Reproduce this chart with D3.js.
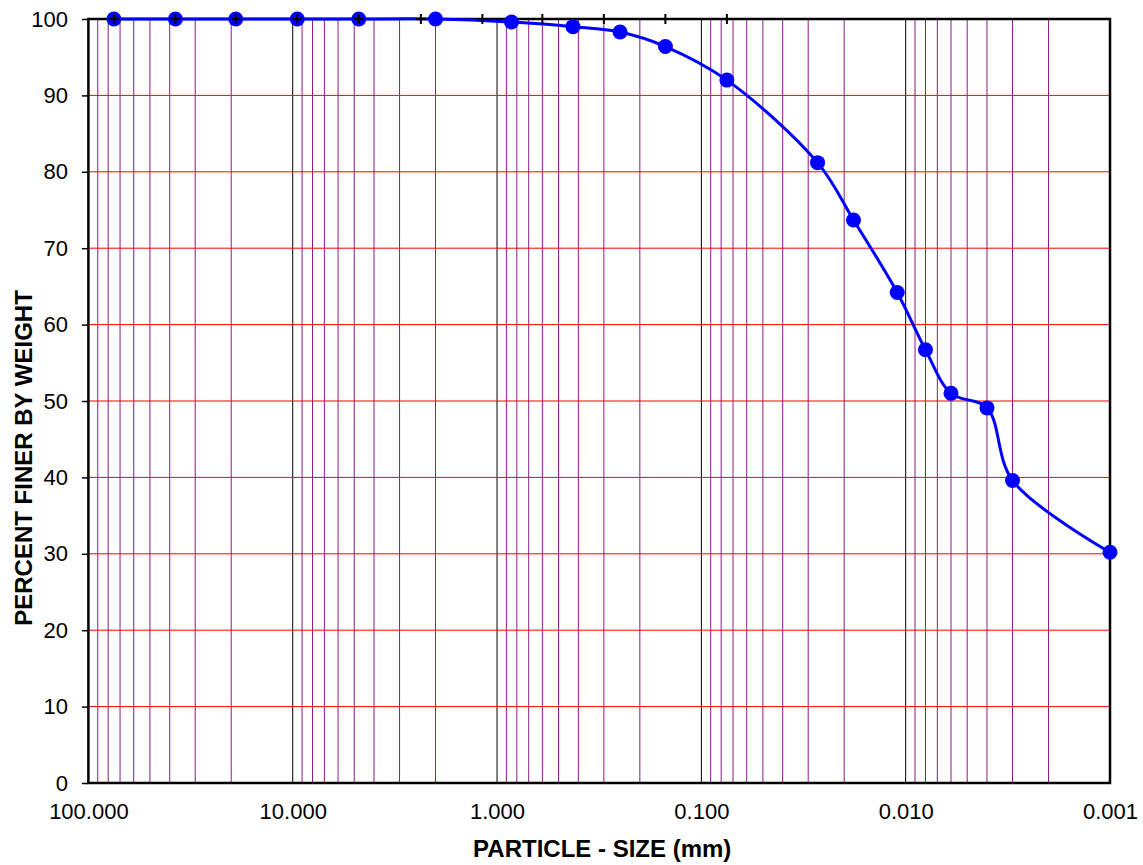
<!DOCTYPE html>
<html>
<head>
<meta charset="utf-8">
<script src="https://cdn.jsdelivr.net/npm/d3@7"></script>
<style>
  html, body { margin: 0; padding: 0; background: #fff; }
  svg { display: block; font-family: "Liberation Sans", Arial, Helvetica, sans-serif; }
</style>
</head>
<body>
<svg id="chart" width="1143" height="865"></svg>
<script>
// Grain-size distribution: sieve + hydrometer results
const particleSize = [75, 37.5, 19, 9.5, 4.75, 2.0, 0.85, 0.425, 0.25, 0.15, 0.075,
                      0.027, 0.018, 0.011, 0.008, 0.006, 0.004, 0.003, 0.001];
const percentFiner = [100, 100, 100, 100, 100, 100, 99.6, 99.0, 98.3, 96.4, 92.0,
                      81.2, 73.7, 64.2, 56.7, 51.0, 49.1, 39.6, 30.2];

// Standard sieve openings marked along the top (mm)
const sieveMarks = [75, 37.5, 19, 9.5, 4.75, 2.36, 1.18, 0.6, 0.3, 0.15, 0.075];
const sieveLevel = 100;

// Axis ticks
const decadeTicks = [100, 10, 1, 0.1, 0.01, 0.001];
const yTicks = [0, 10, 20, 30, 40, 50, 60, 70, 80, 90, 100];

const xTitle = "PARTICLE - SIZE (mm)";
const yTitle = "PERCENT FINER BY WEIGHT";

const svg = d3.select("#chart");
const plot = { left: 88.4, right: 1110, top: 19, bottom: 783 };

const x = d3.scaleLog().domain([100, 0.001]).range([plot.left, plot.right]);
const y = d3.scaleLinear().domain([0, 100]).range([plot.bottom, plot.top]);

// Minor log gridlines: 2..9 times each decade base
const minor = [];
decadeTicks.slice(1).forEach(base => {
  for (let m = 2; m <= 9; m++) minor.push(m * base);
});

const grid = svg.append("g");
grid.selectAll("line.minor").data(minor).join("line")
  .attr("class", "minor")
  .attr("x1", d => x(d)).attr("x2", d => x(d))
  .attr("y1", plot.top).attr("y2", plot.bottom)
  .attr("stroke", "#8a1a8a").attr("stroke-width", 1);

// Decade gridlines
grid.selectAll("line.major").data(decadeTicks.slice(1, -1)).join("line")
  .attr("class", "major")
  .attr("x1", d => x(d)).attr("x2", d => x(d))
  .attr("y1", plot.top).attr("y2", plot.bottom)
  .attr("stroke", "#000").attr("stroke-width", 1);

// Horizontal gridlines
grid.selectAll("line.h").data(yTicks.slice(1, -1)).join("line")
  .attr("class", "h")
  .attr("x1", plot.left).attr("x2", plot.right)
  .attr("y1", d => y(d)).attr("y2", d => y(d))
  .attr("stroke", "#ff0000").attr("stroke-width", 1);

// Plot frame
svg.append("rect")
  .attr("x", plot.left).attr("y", plot.top)
  .attr("width", plot.right - plot.left).attr("height", plot.bottom - plot.top)
  .attr("fill", "none").attr("stroke", "#000").attr("stroke-width", 2.5);

// Y axis
const yAxis = d3.axisLeft(y).tickValues(yTicks).tickSize(6).tickPadding(14)
  .tickFormat(d3.format("d"));
const yg = svg.append("g").attr("transform", `translate(${plot.left - 0.5},0)`).call(yAxis);
yg.select(".domain").remove();
yg.selectAll(".tick line").attr("stroke", "#000").attr("stroke-width", 1.5);
yg.selectAll(".tick text").attr("font-size", 22).attr("fill", "#000")
  .attr("font-family", "'Liberation Sans', Arial, sans-serif");

// X axis (labels only)
const xAxis = d3.axisBottom(x).tickValues(decadeTicks).tickSize(0).tickPadding(20)
  .tickFormat(d3.format(".3f"));
const xg = svg.append("g").attr("transform", `translate(0,${plot.bottom})`).call(xAxis);
xg.select(".domain").remove();
xg.selectAll(".tick text").attr("font-size", 22).attr("fill", "#000")
  .attr("font-family", "'Liberation Sans', Arial, sans-serif");

// Gradation curve
const pts = particleSize.map((d, i) => [x(d), y(percentFiner[i])]);
svg.append("path")
  .attr("d", d3.line().curve(d3.curveCatmullRom.alpha(0.5))(pts))
  .attr("fill", "none").attr("stroke", "#0000ff").attr("stroke-width", 3);

svg.append("g").selectAll("circle").data(pts).join("circle")
  .attr("cx", d => d[0]).attr("cy", d => d[1]).attr("r", 7.5)
  .attr("fill", "#0000ff");

// Sieve marks (plus symbols)
const plus = svg.append("g").attr("stroke", "#000").attr("stroke-width", 2);
sieveMarks.forEach(s => {
  const cx = x(s), cy = y(sieveLevel);
  plus.append("line").attr("x1", cx).attr("x2", cx).attr("y1", cy - 5).attr("y2", cy + 5);
  plus.append("line").attr("x1", cx - 5).attr("x2", cx + 5).attr("y1", cy).attr("y2", cy);
});

// Axis titles
svg.append("text")
  .attr("x", (plot.left + plot.right) / 2 + 3).attr("y", 857)
  .attr("text-anchor", "middle").attr("font-size", 24).attr("font-weight", "bold")
  .text(xTitle);

svg.append("text")
  .attr("transform", `translate(32,458) rotate(-90)`)
  .attr("text-anchor", "middle").attr("font-size", 24).attr("font-weight", "bold")
  .text(yTitle);
</script>
</body>
</html>
